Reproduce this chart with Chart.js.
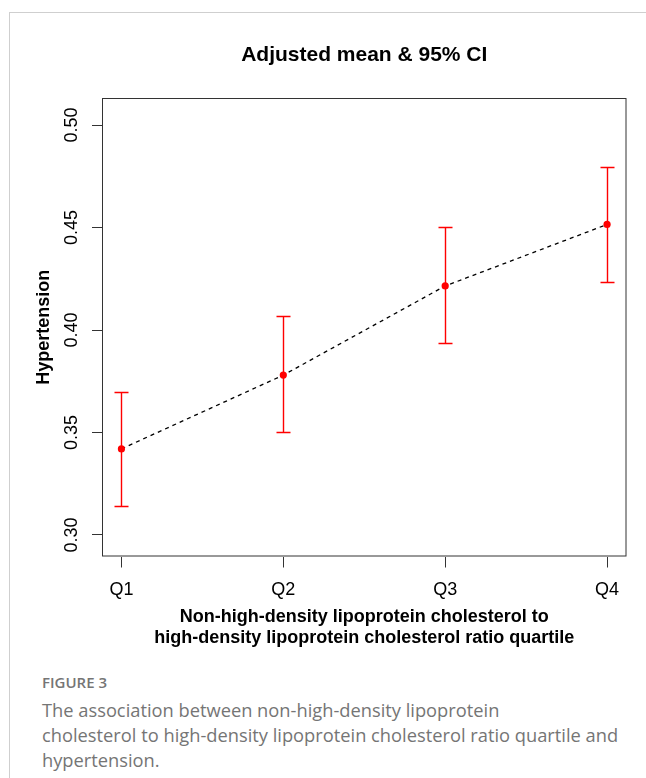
<!DOCTYPE html>
<html>
<head>
<meta charset="utf-8">
<script src="https://cdn.jsdelivr.net/npm/chart.js@4.4.0/dist/chart.umd.min.js"></script>
<style>
  body { margin: 0; background: #fff; width: 646px; height: 778px; position: relative; overflow: hidden; }
  #frame { position: absolute; left: 9px; top: 12px; right: 0; bottom: 0; border-top: 1px solid #cfcfcf; border-left: 1px solid #cfcfcf; }
  #wrap { position: absolute; left: 0; top: 0; width: 646px; height: 660px; }
  #cap { position: absolute; left: 42px; top: 671px; color: #757575; white-space: nowrap; font-family: "Open Sans", "Noto Sans", sans-serif; }
  #cap .lab { font-size: 15px; font-weight: 600; line-height: 22px; }
  #cap .txt { font-size: 18.3px; line-height: 25px; margin-top: 4px; }
</style>
</head>
<body>
<div id="frame"></div>
<div id="wrap"><canvas id="chart"></canvas></div>
<div id="cap">
  <div class="lab">FIGURE 3</div>
  <div class="txt">The association between non-high-density lipoprotein<br>cholesterol to high-density lipoprotein cholesterol ratio quartile and<br>hypertension.</div>
</div>
<script>
const quartiles = ['Q1', 'Q2', 'Q3', 'Q4'];
const xPos = [1, 2, 3, 4];
const adjMean = [0.342, 0.378, 0.4215, 0.4515];
const ciLower = [0.3143, 0.3503, 0.3937, 0.4236];
const ciUpper = [0.3700, 0.4068, 0.4502, 0.4797];
const yTicks = [0.30, 0.35, 0.40, 0.45, 0.50];

const font = '"Liberation Sans", Arial, Helvetica, sans-serif';

// error bars, box and rotated y labels
const extras = {
  id: 'extras',
  beforeDatasetsDraw(chart) {
    const { ctx, scales: { x, y } } = chart;
    ctx.save();
    ctx.setLineDash([]);
    ctx.strokeStyle = 'rgb(255, 0, 0)';
    ctx.lineWidth = 1.4;
    xPos.forEach((v, i) => {
      const px = Math.round(x.getPixelForValue(v)) + 0.5;
      const top = Math.round(y.getPixelForValue(ciUpper[i])) + 0.5;
      const bot = Math.round(y.getPixelForValue(ciLower[i])) + 0.5;
      ctx.beginPath();
      ctx.moveTo(px, top); ctx.lineTo(px, bot);
      ctx.moveTo(px - 7, top); ctx.lineTo(px + 7, top);
      ctx.moveTo(px - 7, bot); ctx.lineTo(px + 7, bot);
      ctx.stroke();
    });
    ctx.restore();
  },
  afterDraw(chart) {
    const { ctx, chartArea: a, scales: { y } } = chart;
    ctx.save();
    ctx.strokeStyle = '#333';
    ctx.lineWidth = 1;
    ctx.strokeRect(a.left + 0.5, a.top + 0.5, a.right - a.left - 1, a.bottom - a.top - 1);
    ctx.fillStyle = '#000';
    ctx.font = '18px ' + font;
    ctx.textAlign = 'center';
    ctx.textBaseline = 'middle';
    yTicks.forEach(v => {
      ctx.save();
      ctx.translate(72, y.getPixelForValue(v));
      ctx.rotate(-Math.PI / 2);
      ctx.fillText(v.toFixed(2), 0, 0);
      ctx.restore();
    });
    ctx.restore();
  }
};

new Chart(document.getElementById('chart'), {
  type: 'line',
  data: {
    datasets: [{
      data: xPos.map((v, i) => ({ x: v, y: adjMean[i] })),
      borderColor: '#000',
      borderWidth: 1.3,
      borderDash: [4, 4],
      pointRadius: 3.6,
      pointBorderWidth: 0,
      pointBackgroundColor: '#ff0000',
      pointBorderColor: '#ff0000',
      tension: 0
    }]
  },
  options: {
    responsive: true,
    maintainAspectRatio: false,
    animation: false,
    layout: { padding: { left: 0, right: 19.5, top: 0, bottom: 0 } },
    plugins: {
      legend: { display: false },
      tooltip: { enabled: false },
      title: {
        display: true,
        fullSize: false,
        text: 'Adjusted mean & 95% CI',
        color: '#000',
        font: { family: font, size: 21, weight: 'bold', lineHeight: 1.2 },
        padding: { top: 42.4, bottom: 30.4 }
      }
    },
    scales: {
      x: {
        type: 'linear',
        min: 0.88,
        max: 4.12,
        afterBuildTicks: s => { s.ticks = xPos.map(v => ({ value: v })); },
        afterFit: s => { s.height = 103.5; },
        border: { display: false },
        grid: { drawOnChartArea: false, drawTicks: true, tickLength: 11, color: '#333' },
        ticks: {
          padding: 12,
          color: '#000',
          font: { family: font, size: 18 },
          callback: v => quartiles[xPos.indexOf(v)]
        },
        title: {
          display: true,
          text: ['Non-high-density lipoprotein cholesterol to', 'high-density lipoprotein cholesterol ratio quartile'],
          color: '#000',
          font: { family: font, size: 18, weight: 'bold', lineHeight: 21 / 18 },
          padding: { top: 0, bottom: 11.5 }
        }
      },
      y: {
        min: 0.2895,
        max: 0.5132,
        afterBuildTicks: s => { s.ticks = yTicks.map(v => ({ value: v })); },
        afterFit: s => { s.width = 102; },
        border: { display: false },
        grid: { drawOnChartArea: false, drawTicks: true, tickLength: 10, color: '#333' },
        ticks: { display: false },
        title: {
          display: true,
          text: 'Hypertension',
          color: '#000',
          font: { family: font, size: 18, weight: 'bold', lineHeight: 1.2 },
          padding: { top: 33.2, bottom: 0 }
        }
      }
    }
  },
  plugins: [extras]
});
</script>
</body>
</html>
